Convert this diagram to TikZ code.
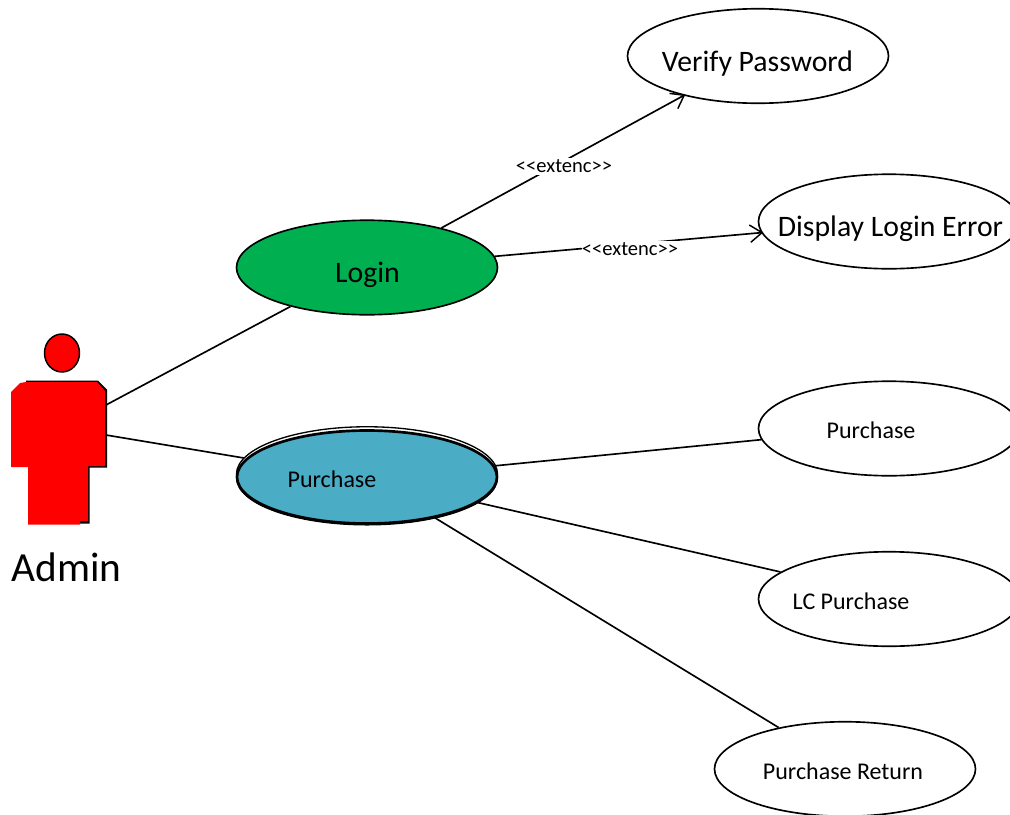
\documentclass[tikz,border=0pt]{standalone}
\usepackage{fontspec}
\setmainfont{Carlito}
\usetikzlibrary{shapes.geometric,arrows.meta}
\definecolor{ucgreen}{HTML}{00B050}
\definecolor{ucblue}{HTML}{4BACC6}
\tikzset{
  usecase/.style={draw=black,line width=1.65pt*0.75,ellipse,inner sep=0pt,minimum width=261*0.75pt,minimum height=94.5*0.75pt,fill=white},
  big/.style={font=\fontsize{22.3}{26}\selectfont,inner sep=0pt},
  small/.style={font=\fontsize{18}{21}\selectfont,inner sep=0pt},
  conn/.style={draw=black,line width=1.65pt*0.75},
  tag/.style={font=\fontsize{15.4}{18}\selectfont,fill=white,inner xsep=0pt,inner ysep=1.5pt},
  arr/.style={-{Straight Barb[length=9pt,width=13pt,line width=1.1pt]},shorten >=-1.5pt},
}
\begin{document}
\begin{tikzpicture}[x=0.75pt,y=-0.75pt]
\useasboundingbox (0,0) rectangle (1010,814);
\clip (0,0) rectangle (1010,814);
% use cases
\node[usecase] (verify) at (758,56) {};
\node[usecase] (display) at (889,221.5) {};
\node[usecase] (white) at (889,428.5) {};
\node[usecase] (lc) at (889,599) {};
\node[usecase] (ret) at (845,769) {};
\node[usecase,fill=ucgreen] (login) at (367,267.5) {};
% actor attachment points
\coordinate (armA) at (106,405);
\coordinate (armB) at (106,435);
% connectors
\draw[conn] (armA) -- (login.207.8);
\draw[conn] (armB) -- (244,458);
\draw[conn,arr] (login.28.4) -- (verify.208.4);
\draw[conn,arr] (login.5.3) -- (display.185.4);
% purchase (double outline)
\node[usecase,fill=white,line width=1pt] (purchaseback) at (367,474) {};
\node[usecase,fill=black,line width=1.5pt,minimum height=93*0.75pt,minimum width=260*0.75pt] (purchaselow) at (367,478) {};
\node[usecase,fill=ucblue,line width=2pt,minimum height=93*0.75pt,minimum width=260*0.75pt] (purchase) at (367,477) {};
\draw[conn] (purchase.5.3) -- (white.185.4);
\draw[conn] (purchase.-13.3) -- (lc.166.8);
\draw[conn] (purchase.-31.2) -- (ret.148.5);
% actor
\fill[black] (26,380.5) -- (98,380.5) -- (107,389.5) -- (107,467.5) -- (89.5,467.5) -- (89.5,523.5) -- (70,523.5) -- (70,440) -- (26,440) -- cycle;
\fill[red] (11,392) -- (20,383) -- (26,382) -- (97,382) -- (105,391) -- (105,466) -- (88,466) -- (88,521) -- (80,521) -- (80,524.5) -- (28,524.5) -- (28,467) -- (11,467) -- cycle;
\node[draw=black,fill=red,line width=1.1pt,ellipse,inner sep=0pt,minimum width=35*0.75pt,minimum height=38*0.75pt] (head) at (62,353) {};
% texts
\node[big,anchor=base] (tv) at (757.5,71) {Verify Password};
\node[big,anchor=base] (td) at (890.5,236.5) {Display Login Error};
\node[big,anchor=base] (tl) at (367.5,282.5) {Login};
\node[small,anchor=base] (tp) at (332,487) {Purchase};
\node[small,anchor=base] (tw) at (871,438) {Purchase};
\node[small,anchor=base] (tlc) at (851,609) {LC Purchase};
\node[small,anchor=base] (tr) at (843,779) {Purchase Return};
\node[tag] (e1) at (564,166.5) {<{}<extenc>{}>};
\node[tag] (e2) at (630,249.5) {<{}<extenc>{}>};
\node[anchor=base,inner sep=0pt,font=\fontsize{31}{36}\selectfont] (admin) at (66.5,581) {Admin};
\end{tikzpicture}
\end{document}
